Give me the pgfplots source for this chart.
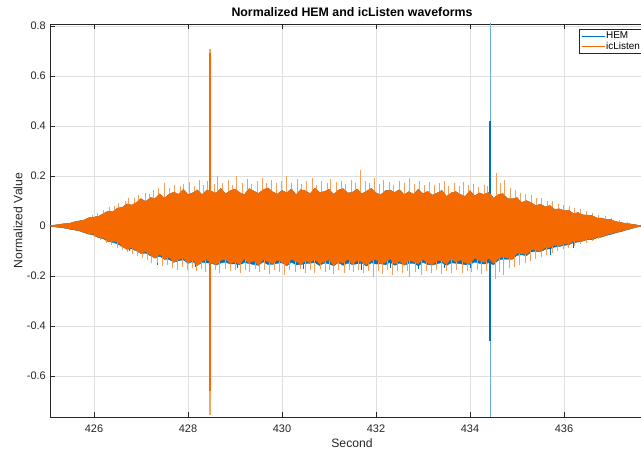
\documentclass[border=0pt]{standalone}
\usepackage{pgfplots}
\pgfplotsset{compat=1.18}
\usepackage{pgfplotstable}
\usepackage{fontspec}
\setmainfont{Liberation Sans}
\definecolor{hemblue}{RGB}{0,114,189}
\definecolor{hemlight}{RGB}{110,172,224}
\definecolor{icorange}{RGB}{244,106,0}
\definecolor{axgray}{RGB}{38,38,38}
\definecolor{gridgray}{RGB}{223,223,223}

\pgfplotstableread{
x ou ol bl
425.064 0.000 0.000 0.000
425.1 0.002 -0.002 -0.002
425.2 0.004 -0.004 -0.005
425.3 0.007 -0.006 -0.007
425.4 0.009 -0.009 -0.010
425.5 0.011 -0.014 -0.014
425.6 0.017 -0.016 -0.017
425.7 0.020 -0.020 -0.021
425.8 0.024 -0.027 -0.028
425.9 0.033 -0.032 -0.033
426.0 0.035 -0.034 -0.038
426.1 0.039 -0.047 -0.048
426.2 0.049 -0.049 -0.052
426.3 0.059 -0.062 -0.063
426.4 0.056 -0.062 -0.066
426.5 0.071 -0.065 -0.072
426.6 0.074 -0.082 -0.083
426.7 0.088 -0.094 -0.094
426.8 0.083 -0.087 -0.092
426.9 0.093 -0.098 -0.100
427.0 0.109 -0.110 -0.111
427.1 0.097 -0.103 -0.109
427.2 0.113 -0.118 -0.120
427.3 0.110 -0.129 -0.129
427.4 0.128 -0.114 -0.122
427.5 0.111 -0.132 -0.134
427.6 0.127 -0.127 -0.135
427.7 0.135 -0.145 -0.146
427.8 0.126 -0.136 -0.140
427.9 0.146 -0.128 -0.136
428.0 0.125 -0.149 -0.150
428.1 0.132 -0.136 -0.143
428.2 0.144 -0.158 -0.158
428.3 0.125 -0.141 -0.146
428.4 0.143 -0.136 -0.148
428.5 0.138 -0.147 -0.150
428.6 0.131 -0.156 -0.157
428.7 0.150 -0.138 -0.149
428.8 0.128 -0.133 -0.145
428.9 0.141 -0.151 -0.153
429.0 0.147 -0.145 -0.152
429.1 0.133 -0.154 -0.156
429.2 0.125 -0.131 -0.147
429.3 0.149 -0.149 -0.151
429.4 0.139 -0.140 -0.155
429.5 0.130 -0.158 -0.158
429.6 0.144 -0.135 -0.144
429.7 0.152 -0.143 -0.155
429.8 0.136 -0.152 -0.154
429.9 0.127 -0.137 -0.150
430.0 0.142 -0.146 -0.148
430.1 0.132 -0.157 -0.160
430.2 0.148 -0.134 -0.146
430.3 0.124 -0.141 -0.156
430.4 0.145 -0.155 -0.155
430.5 0.140 -0.139 -0.151
430.6 0.129 -0.148 -0.150
430.7 0.151 -0.132 -0.147
430.8 0.134 -0.153 -0.159
430.9 0.137 -0.144 -0.149
431.0 0.146 -0.136 -0.152
431.1 0.126 -0.159 -0.160
431.2 0.143 -0.142 -0.147
431.3 0.149 -0.150 -0.158
431.4 0.131 -0.133 -0.149
431.5 0.135 -0.154 -0.155
431.6 0.147 -0.138 -0.152
431.7 0.128 -0.145 -0.150
431.8 0.139 -0.156 -0.161
431.9 0.150 -0.140 -0.148
432.0 0.132 -0.135 -0.153
432.1 0.124 -0.151 -0.152
432.2 0.141 -0.147 -0.156
432.3 0.143 -0.131 -0.146
432.4 0.134 -0.153 -0.158
432.5 0.145 -0.141 -0.149
432.6 0.124 -0.157 -0.157
432.7 0.137 -0.136 -0.151
432.8 0.126 -0.144 -0.150
432.9 0.147 -0.152 -0.160
433.0 0.128 -0.134 -0.146
433.1 0.138 -0.148 -0.155
433.2 0.123 -0.157 -0.157
433.3 0.131 -0.138 -0.152
433.4 0.142 -0.141 -0.147
433.5 0.118 -0.154 -0.159
433.6 0.132 -0.132 -0.148
433.7 0.137 -0.145 -0.150
433.8 0.125 -0.136 -0.152
433.9 0.118 -0.148 -0.156
434.0 0.141 -0.152 -0.154
434.1 0.120 -0.128 -0.145
434.2 0.132 -0.139 -0.150
434.3 0.125 -0.146 -0.153
434.4 0.135 -0.130 -0.148
434.5 0.111 -0.150 -0.156
434.6 0.125 -0.131 -0.138
434.7 0.129 -0.124 -0.133
434.8 0.109 -0.129 -0.134
434.9 0.108 -0.133 -0.134
435.0 0.113 -0.110 -0.118
435.1 0.093 -0.112 -0.116
435.2 0.101 -0.114 -0.120
435.3 0.093 -0.096 -0.104
435.4 0.081 -0.097 -0.103
435.5 0.087 -0.103 -0.104
435.6 0.076 -0.087 -0.094
435.7 0.081 -0.087 -0.092
435.8 0.066 -0.077 -0.085
435.9 0.068 -0.082 -0.083
436.0 0.061 -0.072 -0.078
436.1 0.063 -0.074 -0.076
436.2 0.049 -0.061 -0.067
436.3 0.053 -0.062 -0.065
436.4 0.044 -0.060 -0.061
436.5 0.043 -0.051 -0.055
436.6 0.041 -0.054 -0.056
436.7 0.031 -0.045 -0.048
436.8 0.031 -0.043 -0.045
436.9 0.025 -0.035 -0.038
437.0 0.025 -0.032 -0.035
437.1 0.017 -0.026 -0.028
437.2 0.014 -0.022 -0.024
437.3 0.010 -0.017 -0.018
437.4 0.008 -0.012 -0.013
437.5 0.005 -0.007 -0.008
437.6 0.002 -0.003 -0.003
437.7 0.000 0.000 0.000
437.915 0.000 0.000 0.000
}\env

\pgfplotstableread{
x y
425.83 0.032
425.97 0.045
426.08 0.052
426.21 0.062
426.33 0.075
426.44 0.080
426.52 0.092
426.66 0.098
426.74 0.110
426.87 0.112
426.95 0.125
427.09 0.130
427.18 0.128
427.27 0.145
427.38 0.150
427.50 0.172
427.61 0.150
427.72 0.162
427.83 0.158
427.91 0.168
428.04 0.175
428.13 0.160
428.24 0.185
428.33 0.165
428.41 0.178
428.56 0.168
428.62 0.200
428.74 0.170
428.86 0.182
428.95 0.165
429.04 0.200
429.15 0.172
429.27 0.188
429.36 0.168
429.47 0.178
429.58 0.192
429.66 0.170
429.78 0.185
429.88 0.172
430.00 0.178
430.10 0.200
430.21 0.170
430.33 0.186
430.42 0.168
430.53 0.180
430.64 0.192
430.73 0.165
430.85 0.178
430.96 0.170
431.04 0.188
431.15 0.175
431.27 0.180
431.36 0.168
431.48 0.185
431.57 0.172
431.66 0.222
431.77 0.180
431.86 0.172
431.97 0.190
432.08 0.168
432.17 0.182
432.29 0.175
432.38 0.165
432.49 0.180
432.60 0.170
432.72 0.192
432.81 0.168
432.93 0.178
433.04 0.165
433.13 0.175
433.24 0.162
433.35 0.172
433.46 0.180
433.55 0.160
433.66 0.170
433.77 0.158
433.86 0.175
433.97 0.162
434.08 0.168
434.19 0.155
434.30 0.165
434.38 0.160
434.57 0.212
434.65 0.170
434.74 0.185
434.86 0.150
434.97 0.145
435.08 0.132
435.19 0.128
435.31 0.122
435.42 0.112
435.53 0.110
435.64 0.100
435.76 0.098
435.88 0.088
435.99 0.082
436.11 0.078
436.23 0.070
436.36 0.066
436.48 0.058
436.61 0.052
436.74 0.045
436.88 0.038
437.02 0.030
437.18 0.022
437.35 0.014
425.88 -0.036
426.02 -0.046
426.14 -0.055
426.26 -0.068
426.38 -0.076
426.49 -0.088
426.60 -0.095
426.71 -0.105
426.82 -0.112
426.93 -0.122
427.04 -0.128
427.14 -0.135
427.23 -0.148
427.35 -0.150
427.46 -0.160
427.57 -0.155
427.66 -0.168
427.77 -0.175
427.88 -0.165
427.98 -0.178
428.09 -0.170
428.19 -0.182
428.28 -0.172
428.38 -0.185
428.58 -0.178
428.68 -0.188
428.79 -0.172
428.91 -0.182
429.01 -0.175
429.12 -0.190
429.22 -0.178
429.31 -0.185
429.43 -0.172
429.53 -0.186
429.63 -0.178
429.74 -0.192
429.85 -0.175
429.95 -0.183
430.06 -0.195
430.17 -0.176
430.28 -0.186
430.39 -0.172
430.50 -0.188
430.61 -0.178
430.70 -0.190
430.81 -0.174
430.92 -0.183
431.02 -0.176
431.09 -0.192
431.21 -0.178
431.32 -0.188
431.43 -0.175
431.53 -0.185
431.63 -0.178
431.74 -0.190
431.85 -0.180
431.94 -0.205
432.05 -0.182
432.14 -0.192
432.25 -0.178
432.35 -0.195
432.46 -0.182
432.56 -0.188
432.66 -0.180
432.72 -0.205
432.84 -0.185
432.96 -0.195
433.07 -0.180
433.18 -0.190
433.28 -0.178
433.39 -0.192
433.50 -0.182
433.61 -0.188
433.71 -0.176
433.83 -0.190
433.94 -0.180
434.04 -0.186
434.15 -0.175
434.25 -0.192
434.35 -0.180
434.55 -0.212
434.62 -0.185
434.71 -0.198
434.84 -0.170
434.95 -0.165
435.06 -0.158
435.18 -0.148
435.29 -0.140
435.40 -0.132
435.52 -0.124
435.63 -0.118
435.75 -0.108
435.86 -0.100
435.98 -0.094
436.10 -0.088
436.22 -0.080
436.35 -0.074
436.47 -0.068
436.60 -0.060
436.73 -0.052
436.86 -0.046
437.00 -0.038
437.15 -0.028
437.32 -0.018
}\spikes

\pgfplotstableread{
x y
426.75 -0.100
427.35 -0.158
428.15 -0.165
429.05 -0.168
430.45 -0.172
431.20 -0.170
431.70 -0.175
432.30 -0.170
432.90 -0.172
433.45 -0.168
434.00 -0.170
435.70 -0.118
436.20 -0.090
}\hemspikes

\begin{document}
\begin{tikzpicture}
\begin{axis}[
  at={(0,0)}, anchor=south west,
  scale only axis, width=604bp, height=393bp,
  xmin=425.064, xmax=437.915, ymin=-0.765, ymax=0.808,
  axis line style={axgray, line width=0.5bp},
  tick align=inside, tick pos=both,
  major tick length=5bp,
  major tick style={axgray, line width=0.5bp},
  grid=major, major grid style={gridgray, line width=0.5bp},
  xtick={426,428,430,432,434,436},
  xticklabels={426,428,430,432,434,436},
  ytick={-0.6,-0.4,-0.2,0,0.2,0.4,0.6,0.8},
  yticklabels={-0.6,-0.4,-0.2,0,0.2,0.4,0.6,0.8},
  tick label style={font=\fontsize{11}{13}\selectfont, text=axgray},
  xticklabel style={anchor=north, inner sep=0pt, yshift=-8bp},
  yticklabel style={anchor=east, inner sep=0pt, xshift=-4bp},
  xlabel={Second}, ylabel={Normalized Value},
  xlabel style={at={(axis description cs:0.5,-0.066)}, anchor=center, font=\fontsize{12.2}{14}\selectfont, text=axgray},
  ylabel style={at={(axis description cs:-0.053,0.5)}, anchor=center, font=\fontsize{12.2}{14}\selectfont, text=axgray},
  title={Normalized HEM and icListen waveforms},
  every axis title/.style={at={(axis description cs:0.5,1.030)}, anchor=center, font=\bfseries\fontsize{12.4}{14}\selectfont},
  legend style={at={(0.982,0.987)}, anchor=north east, draw=axgray, line width=0.5bp, fill=white,
    font=\fontsize{10}{11}\selectfont, inner xsep=2bp, inner ysep=1.5bp, row sep=0pt,
    cells={anchor=west}, nodes={inner sep=1bp, text height=7bp, text depth=1.5bp, text=black}},
  legend image code/.code={\draw[#1, line width=0.6bp] (0bp,0bp) -- (23bp,0bp);},
]
% HEM core
\addplot[fill=hemblue, draw=hemblue, line width=0.3bp, forget plot] table[x=x,y=ou]{\env} \closedcycle;
\addplot[fill=hemblue, draw=hemblue, line width=0.3bp, forget plot] table[x=x,y=bl]{\env} \closedcycle;
\addplot[ycomb, hemblue, line width=0.8bp, forget plot] table[x=x,y=y]{\hemspikes};
% HEM spike
\addplot[hemlight, line width=1.2bp, forget plot] coordinates {(434.43,0.95) (434.43,-0.95)};
\addplot[hemblue, line width=2bp, forget plot] coordinates {(434.43,0.42) (434.43,-0.46)};
% icListen light spikes
\addplot[ycomb, icorange!65!white, line width=1bp, forget plot] table[x=x,y=y]{\spikes};
% icListen core
\addplot[fill=icorange, draw=icorange, line width=0.3bp, forget plot] table[x=x,y=ou]{\env} \closedcycle;
\addplot[fill=icorange, draw=icorange, line width=0.3bp, forget plot] table[x=x,y=ol]{\env} \closedcycle;
% icListen spike
\addplot[icorange!60!white, line width=1.2bp, forget plot] coordinates {(428.47,0.708) (428.47,-0.757)};
\addplot[icorange, line width=1.8bp, forget plot] coordinates {(428.47,0.69) (428.47,-0.66)};
\addlegendimage{hemblue}\addlegendentry{HEM}
\addlegendimage{icorange}\addlegendentry{icListen}
\end{axis}
\pgfresetboundingbox
\path[use as bounding box] (-50bp,-35bp) rectangle (591bp,417bp);
\end{tikzpicture}
\end{document}
